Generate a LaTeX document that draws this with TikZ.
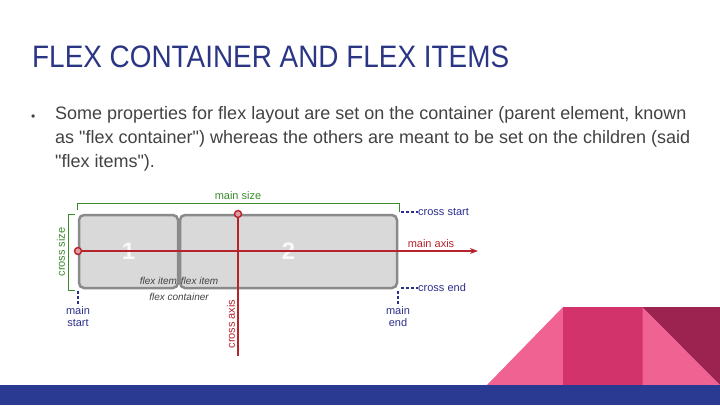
\documentclass[tikz,border=0pt]{standalone}
\usepackage{fontspec}
\setmainfont{Liberation Sans}
\newfontfamily\titlefont[FakeStretch=0.9]{Liberation Sans}
\newfontfamily\bodyfont{Liberation Sans}
\usetikzlibrary{arrows.meta}
\definecolor{titleblue}{HTML}{2A3584}
\definecolor{bodygray}{HTML}{424242}
\definecolor{axisred}{HTML}{B5242C}
\definecolor{sizegreen}{HTML}{3A8A2A}
\definecolor{edgeblue}{HTML}{2B2F8C}
\definecolor{boxgray}{HTML}{8A8A8A}
\definecolor{boxfill}{HTML}{D9D9D9}
\definecolor{barblue}{HTML}{2A3A93}
\definecolor{pinklight}{HTML}{F06292}
\definecolor{pinkmid}{HTML}{D2336A}
\definecolor{pinkdark}{HTML}{9C2350}
\tikzset{
  item/.style={draw=boxgray, fill=boxfill, line width=2.5pt, rounded corners=5pt,
    text=white!95!gray, font=\fontsize{24}{24}\selectfont\bfseries},
  axis/.style={draw=axisred, line width=1.8pt},
  marker/.style={circle, draw=axisred, fill=axisred!45, line width=1.4pt, inner sep=0pt, minimum size=7pt},
  sizeline/.style={draw=sizegreen, line width=1pt},
  edgeline/.style={draw=edgeblue, line width=1.3pt, dash pattern=on 2.5pt off 2.5pt},
  itemlabel/.style={font=\fontsize{10}{10}\selectfont\itshape, text=bodygray, inner sep=1pt},
  redlabel/.style={font=\fontsize{11}{11}\selectfont, text=axisred, inner sep=0pt},
  greenlabel/.style={font=\fontsize{11}{11}\selectfont, text=sizegreen, inner sep=0pt},
  bluelabel/.style={font=\fontsize{11}{11}\selectfont, text=edgeblue, inner sep=0pt, align=center}
}
\begin{document}
\begin{tikzpicture}[x=1pt, y=-1pt]
  \useasboundingbox (0,0) rectangle (720,405);
  % title and text
  \node[anchor=west, inner sep=0pt, text=titleblue, font=\titlefont\fontsize{31}{31}\selectfont] (title) at (32,57) {FLEX CONTAINER AND FLEX ITEMS};
  \node[anchor=west, inner sep=0pt, text=bodygray, font=\fontsize{12}{12}\selectfont] (dot) at (31,118) {\textbullet};
  \node[anchor=north west, inner sep=0pt, align=left, text=bodygray, font=\bodyfont\fontsize{18}{24}\selectfont] (body) at (55,106)
    {Some properties for flex layout are set on the container (parent element, known\\
     as "flex container") whereas the others are meant to be set on the children (said\\
     "flex items").};
  % flex items
  \node[item, minimum width=99, minimum height=73] (item1) at (128.5,251.5) {1};
  \node[item, minimum width=217, minimum height=73] (item2) at (288.5,251.5) {2};
  \node[itemlabel, anchor=south east] (lab1) at ([xshift=-1pt, yshift=3pt]item1.south east) {flex item};
  \node[itemlabel, anchor=south west] (lab2) at ([xshift=1pt, yshift=3pt]item2.south west) {flex item};
  \node[itemlabel] (cont) at (179,297) {flex container};
  % sizes
  \draw[sizeline] (77,210) -- (77,203) -- (399,203) -- (399,212);
  \node[greenlabel] (msize) at (238,196) {main size};
  \draw[sizeline] (75,214) -- (68,214) -- (68,290) -- (75,290);
  \node[greenlabel, rotate=90] (csize) at (61,252) {cross size};
  % axes
  \node[marker] (mstart) at (78,251) {};
  \coordinate (mend) at (478,251);
  \draw[axis, -{Stealth[length=8pt, width=6pt]}] (mstart) -- (mend);
  \node[redlabel] (maxis) at (431,244) {main axis};
  \node[marker] (cstart) at (238,214) {};
  \coordinate (cend) at (238,356);
  \draw[axis] (cstart) -- (cend);
  \node[redlabel, rotate=90] (caxis) at (231,324) {cross axis};
  % start and end
  \coordinate (cs) at (401,212);
  \coordinate (ce) at (401,288);
  \node[bluelabel, anchor=west] (cslab) at (418,212) {cross start};
  \node[bluelabel, anchor=west] (celab) at (418,288) {cross end};
  \draw[edgeline] (cs) -- (cslab);
  \draw[edgeline] (ce) -- (celab);
  \coordinate (ms) at (78,291);
  \coordinate (me) at (398,291);
  \node[bluelabel, anchor=north, font=\fontsize{11}{12}\selectfont] (mslab) at (78,306) {main\\start};
  \node[bluelabel, anchor=north, font=\fontsize{11}{12}\selectfont] (melab) at (398,306) {main\\end};
  \draw[edgeline] (ms) -- (mslab);
  \draw[edgeline] (me) -- (melab);
  % footer
  \fill[pinklight] (487,385) -- (563,307) -- (563,385) -- cycle;
  \fill[pinkmid] (563,307) rectangle (643,385);
  \fill[pinklight] (642.5,307) -- (720,385) -- (642.5,385) -- cycle;
  \fill[pinkdark] (642.5,307) -- (720,307) -- (720,385) -- cycle;
  \fill[barblue] (0,385) rectangle (720,405);
\end{tikzpicture}
\end{document}
